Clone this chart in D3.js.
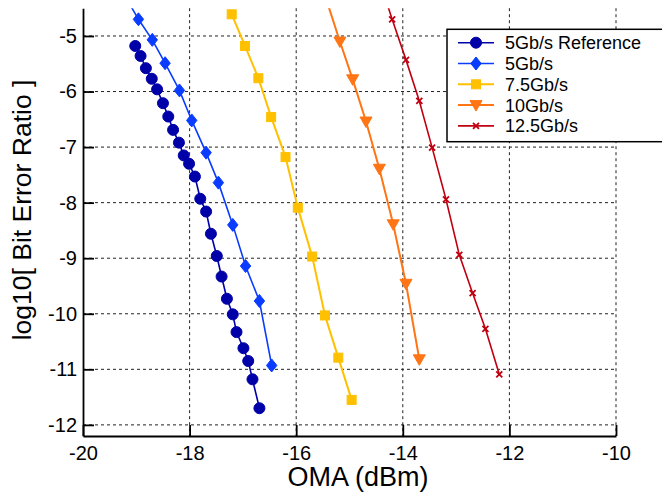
<!DOCTYPE html>
<html>
<head>
<meta charset="utf-8">
<script src="https://cdn.jsdelivr.net/npm/d3@7"></script>
<style>
  html, body { margin: 0; padding: 0; background: #fff; }
  svg { display: block; }
  text { font-family: "Liberation Sans", Arial, sans-serif; fill: #000; }
</style>
</head>
<body>
<svg id="chart" width="662" height="495"></svg>
<script>
// ---------- data ----------
const xTicks = [-20, -18, -16, -14, -12, -10];
const yTicks = [-5, -6, -7, -8, -9, -10, -11, -12];

const seriesNames = ["5Gb/s Reference", "5Gb/s", "7.5Gb/s", "10Gb/s", "12.5Gb/s"];

const refX = [-19.02, -18.92, -18.82, -18.71, -18.61, -18.50, -18.40, -18.31, -18.20, -18.11, -18.01, -17.90,
              -17.80, -17.69, -17.60, -17.49, -17.40, -17.30, -17.19, -17.12, -16.99, -16.90, -16.82, -16.69];
const refY = [-5.18, -5.36, -5.58, -5.77, -5.96, -6.21, -6.45, -6.69, -6.92, -7.15, -7.30, -7.53,
              -7.93, -8.16, -8.56, -8.96, -9.33, -9.73, -10.01, -10.33, -10.62, -10.85, -11.18, -11.70];

const g5X = [-19.20, -18.96, -18.70, -18.46, -18.19, -17.96, -17.69, -17.46, -17.19, -16.95, -16.69, -16.46];
const g5Y = [-4.30, -4.70, -5.07, -5.49, -5.98, -6.52, -7.10, -7.64, -8.40, -9.14, -9.77, -10.93];

const g75X = [-17.21, -16.96, -16.71, -16.47, -16.20, -15.97, -15.70, -15.46, -15.21, -14.96];
const g75Y = [-4.61, -5.18, -5.76, -6.46, -7.18, -8.09, -8.97, -10.03, -10.79, -11.55];

const g10X = [-15.43, -15.18, -14.94, -14.69, -14.44, -14.18, -13.94, -13.69];
const g10Y = [-4.36, -5.10, -5.78, -6.54, -7.39, -8.39, -9.46, -10.82];

const g125X = [-14.45, -14.20, -13.94, -13.69, -13.45, -13.19, -12.94, -12.69, -12.45, -12.19];
const g125Y = [-3.96, -4.70, -5.43, -6.17, -7.01, -7.94, -8.94, -9.63, -10.27, -11.09];

const colors = ["#0000a8", "#0a3cff", "#ffc000", "#ff7414", "#c00010"];
const markers = ["circle", "diamond", "square", "triangleDown", "x"];
const lineWidths = [1.6, 1.6, 2, 2, 1.6];

const series = [
  {x: refX, y: refY}, {x: g5X, y: g5Y}, {x: g75X, y: g75Y}, {x: g10X, y: g10Y}, {x: g125X, y: g125Y}
];

// ---------- layout ----------
const svg = d3.select("#chart");
const pLeft = 83, pRight = 616, pTop = 8.2, pBottom = 436;
const x = d3.scaleLinear().domain([-20, -10]).range([pLeft, pRight]);
const y = d3.scaleLinear().domain([-12.2, -4.5]).range([pBottom, pTop]);

svg.append("defs").append("clipPath").attr("id", "plotclip")
  .append("rect").attr("x", pLeft).attr("y", pTop).attr("width", pRight - pLeft).attr("height", pBottom - pTop);

// grid
const grid = svg.append("g").attr("stroke", "#222").attr("stroke-width", 1).attr("stroke-dasharray", "3,3");
grid.selectAll("line.v").data(xTicks.slice(1)).enter().append("line")
  .attr("x1", d => x(d)).attr("x2", d => x(d)).attr("y1", pTop).attr("y2", pBottom);
grid.selectAll("line.h").data(yTicks).enter().append("line")
  .attr("y1", d => y(d)).attr("y2", d => y(d)).attr("x1", pLeft).attr("x2", pRight);

// marker drawing
function drawMarker(g, type, cx, cy, color) {
  if (type === "circle") {
    g.append("circle").attr("cx", cx).attr("cy", cy).attr("r", 5.5).attr("fill", color).attr("stroke", color);
  } else if (type === "diamond") {
    g.append("path").attr("d", `M${cx},${cy-6.5}L${cx+5.2},${cy}L${cx},${cy+6.5}L${cx-5.2},${cy}Z`)
      .attr("fill", color).attr("stroke", color);
  } else if (type === "square") {
    g.append("rect").attr("x", cx-4.5).attr("y", cy-4.5).attr("width", 9).attr("height", 9)
      .attr("fill", color).attr("stroke", color);
  } else if (type === "triangleDown") {
    g.append("path").attr("d", `M${cx-6},${cy-4.5}L${cx+6},${cy-4.5}L${cx},${cy+6}Z`)
      .attr("fill", color).attr("stroke", color);
  } else if (type === "x") {
    g.append("path").attr("d", `M${cx-3},${cy-3}L${cx+3},${cy+3}M${cx-3},${cy+3}L${cx+3},${cy-3}`)
      .attr("fill", "none").attr("stroke", color).attr("stroke-width", 1.8);
  }
}

// series
const plot = svg.append("g").attr("clip-path", "url(#plotclip)");
const line = d3.line().x(d => x(d[0])).y(d => y(d[1]));
series.forEach((s, i) => {
  const pts = s.x.map((v, k) => [v, s.y[k]]);
  plot.append("path").attr("d", line(pts)).attr("fill", "none")
    .attr("stroke", colors[i]).attr("stroke-width", lineWidths[i]);
  const mg = plot.append("g");
  pts.forEach(p => drawMarker(mg, markers[i], x(p[0]), y(p[1]), colors[i]));
});

// axes
const xAxis = d3.axisBottom(x).tickValues(xTicks).tickSize(-11).tickSizeOuter(0).tickPadding(10)
  .tickFormat(d => String(d));
const yAxis = d3.axisLeft(y).tickValues(yTicks).tickSize(-11).tickSizeOuter(0).tickPadding(6)
  .tickFormat(d => String(d));

const gx = svg.append("g").attr("transform", `translate(0,${pBottom})`).call(xAxis);
const gy = svg.append("g").attr("transform", `translate(${pLeft},0)`).call(yAxis);
[gx, gy].forEach(g => {
  g.select(".domain").attr("stroke", "#000").attr("stroke-width", 1.8);
  g.selectAll(".tick line").attr("stroke", "#000").attr("stroke-width", 1.8);
  g.selectAll(".tick text").attr("font-size", 20).attr("font-family", "Liberation Sans, Arial, sans-serif")
    .attr("fill", "#000");
});

// axis labels
svg.append("text").attr("x", 358).attr("y", 486).attr("text-anchor", "middle")
  .attr("font-size", 27).text("OMA (dBm)");
svg.append("text").attr("transform", "translate(31,210) rotate(-90)").attr("text-anchor", "middle")
  .attr("font-size", 26.5).text("log10[ Bit Error Ratio ]");

// legend
const lg = svg.append("g");
lg.append("rect").attr("x", 447).attr("y", 29.3).attr("width", 225).attr("height", 112.4)
  .attr("fill", "#fff").attr("stroke", "#000").attr("stroke-width", 1.5);
const rowY = [42.7, 63.5, 84.3, 105.1, 125.9];
seriesNames.forEach((name, i) => {
  lg.append("line").attr("x1", 458).attr("x2", 494).attr("y1", rowY[i]).attr("y2", rowY[i])
    .attr("stroke", colors[i]).attr("stroke-width", lineWidths[i]);
  drawMarker(lg, markers[i], 476, rowY[i], colors[i]);
  lg.append("text").attr("x", 505).attr("y", rowY[i]).attr("dy", "0.36em")
    .attr("font-size", 18).text(name);
});
</script>
</body>
</html>
